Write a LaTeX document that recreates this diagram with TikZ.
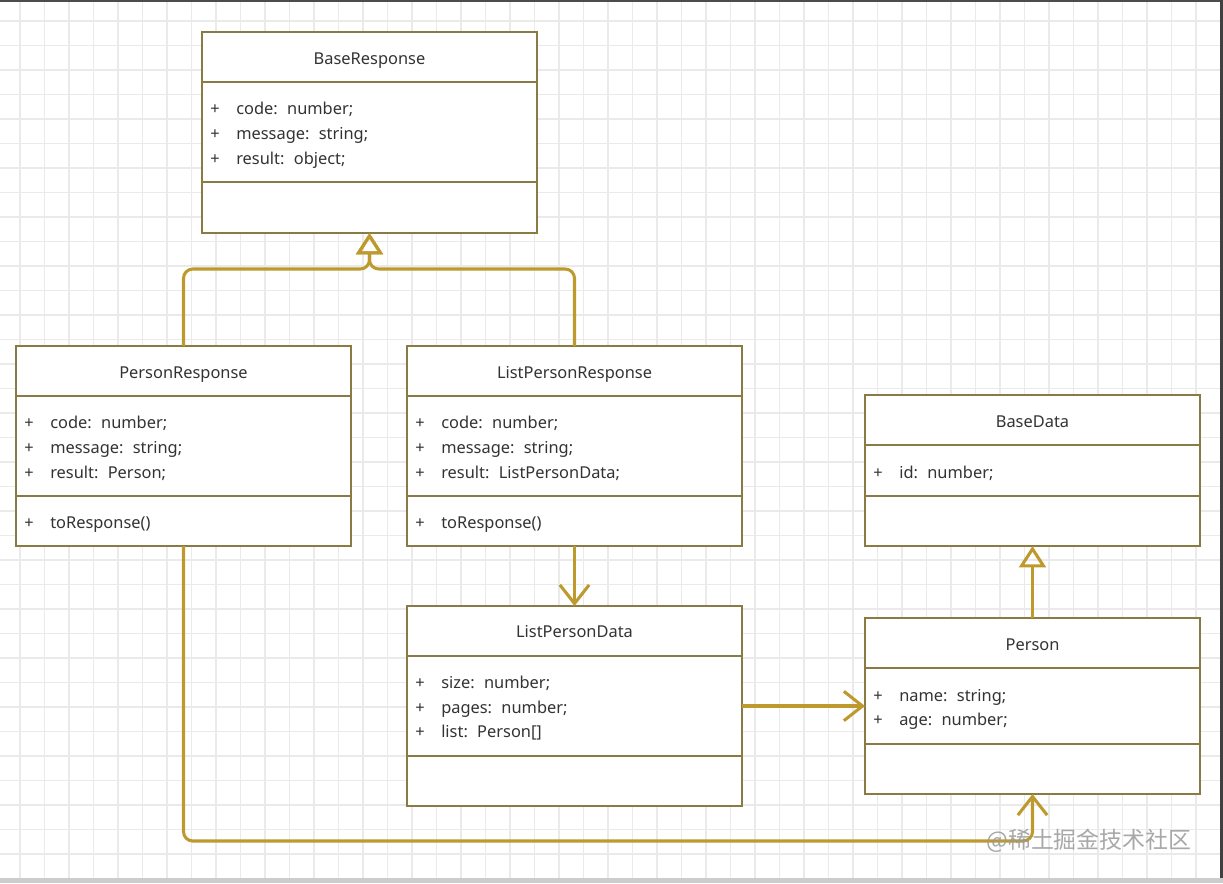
\documentclass[tikz,border=0pt]{standalone}
\usepackage{fontspec}
\setmainfont{Noto Sans}
\newfontfamily\cjkfont{Noto Sans CJK SC}
\usetikzlibrary{arrows.meta,calc}
\definecolor{boxc}{HTML}{8A7B45}
\definecolor{linec}{HTML}{BE9A2E}
\definecolor{txt}{HTML}{333333}
\definecolor{gridc}{HTML}{EAEAEA}
\newcommand{\cln}{:\hspace{7pt}}
\newcommand{\pl}{\makebox[19.5pt][l]{+}}
\begin{document}
\begin{tikzpicture}[x=0.75pt,y=-0.75pt,
  cls/.style={draw=boxc, line width=1.1pt, fill=white, minimum width=251.25pt, anchor=north west, inner sep=0pt, outer sep=0pt},
  div/.style={draw=boxc, line width=1.1pt},
  ttl/.style={font=\fontsize{12.3}{14}\selectfont, text=txt, inner sep=0pt, anchor=base},
  attr/.style={anchor=base west, font=\fontsize{12.3}{14}\selectfont, text=txt, inner sep=0pt},
  conn/.style={draw=linec, line width=2.3pt, rounded corners=7pt},
  inh/.style={conn, -{Triangle[open, length=16pt, width=20pt, line width=2.3pt]}},
  assoc/.style={conn, -{Straight Barb[length=14pt, width=22pt, line width=2.3pt]}}
]
\useasboundingbox (0,0) rectangle (1223,883);
\fill[white] (0,0) rectangle (1223,883);
% grid
\foreach \i in {0,...,49} \draw[gridc, line width=0.8pt] (20+24.5*\i,0) -- (20+24.5*\i,883);
\foreach \i in {0,...,36} \draw[gridc, line width=0.8pt] (0,21+24.5*\i) -- (1223,21+24.5*\i);
% frame
\fill[black!70] (0,0) rectangle (1223,2);
\fill[black!75] (1220,0) rectangle (1223,878);
\fill[black!20] (0,878) rectangle (1223,883);

% BaseResponse
\node[cls, minimum height=150.75pt] (br) at (202,32) {};
\draw[div] (202,82) -- (537,82) (202,182) -- (537,182);
\node[ttl] (brt) at (369.5,64) {BaseResponse};
\node[attr] (bra1) at (210,114) {\pl code\cln number;};
\node[attr] (bra2) at (210,139) {\pl message\cln string;};
\node[attr] (bra3) at (210,164) {\pl result\cln object;};

% PersonResponse
\node[cls, minimum height=150pt] (pr) at (16,346) {};
\draw[div] (16,396) -- (351,396) (16,496) -- (351,496);
\node[ttl] (prt) at (183.5,378) {PersonResponse};
\node[attr] (pra1) at (24,428) {\pl code\cln number;};
\node[attr] (pra2) at (24,453) {\pl message\cln string;};
\node[attr] (pra3) at (24,478) {\pl result\cln Person;};
\node[attr] (prm1) at (24,528) {\pl toResponse()};

% ListPersonResponse
\node[cls, minimum height=150pt] (lpr) at (407,346) {};
\draw[div] (407,396) -- (742,396) (407,496) -- (742,496);
\node[ttl] (lprt) at (574.5,378) {ListPersonResponse};
\node[attr] (lpra1) at (415,428) {\pl code\cln number;};
\node[attr] (lpra2) at (415,453) {\pl message\cln string;};
\node[attr] (lpra3) at (415,478) {\pl result\cln ListPersonData;};
\node[attr] (lprm1) at (415,528) {\pl toResponse()};

% BaseData
\node[cls, minimum height=113.25pt] (bd) at (865,395) {};
\draw[div] (865,445) -- (1200,445) (865,496) -- (1200,496);
\node[ttl] (bdt) at (1032.5,427) {BaseData};
\node[attr] (bda1) at (873,478) {\pl id\cln number;};

% ListPersonData
\node[cls, minimum height=150pt] (lpd) at (407,606) {};
\draw[div] (407,656) -- (742,656) (407,756) -- (742,756);
\node[ttl] (lpdt) at (574.5,637) {ListPersonData};
\node[attr] (lpda1) at (415,688) {\pl size\cln number;};
\node[attr] (lpda2) at (415,713) {\pl pages\cln number;};
\node[attr] (lpda3) at (415,737) {\pl list\cln Person[]};

% Person
\node[cls, minimum height=132pt] (p) at (865,618) {};
\draw[div] (865,668) -- (1200,668) (865,744) -- (1200,744);
\node[ttl] (pt) at (1032.5,650) {Person};
\node[attr] (pa1) at (873,701) {\pl name\cln string;};
\node[attr] (pa2) at (873,725) {\pl age\cln number;};

% connectors
\draw[inh] (pr.north) |- ($(br.south)+(0,36)$) -- (br.south);
\draw[inh] (lpr.north) |- ($(br.south)+(0,36)$) -- (br.south);
\draw[assoc] (lpr.south) -- (lpd.north);
\draw[assoc] (lpd.east) -- (p.west);
\draw[inh] (p.north) -- (bd.south);
\draw[assoc] (pr.south) |- ($(p.south)+(0,47)$) -- (p.south);

% watermark
\node[font=\cjkfont\fontsize{17.2}{19}\selectfont, text=black!40, opacity=0.85, inner sep=0pt] (wm) at (1089,841) {@稀土掘金技术社区};
\end{tikzpicture}
\end{document}
